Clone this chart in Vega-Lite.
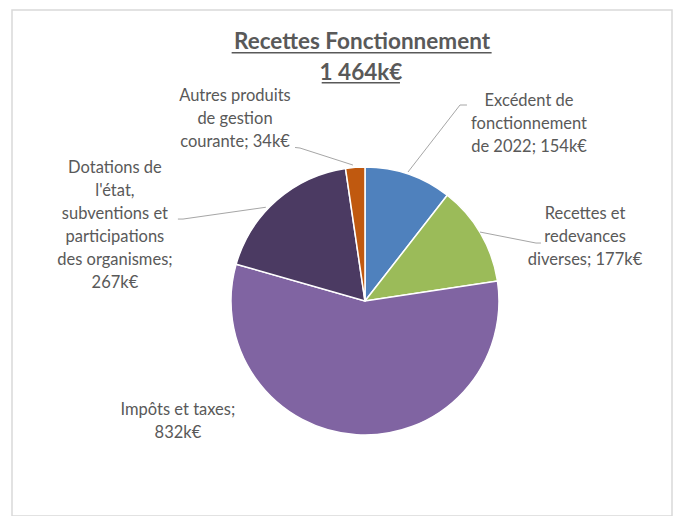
{
  "$schema": "https://vega.github.io/schema/vega-lite/v6.json",
  "autosize": {"type": "fit", "contains": "padding"},
  "width": 675,
  "height": 516,
  "padding": {"left": 12, "top": 10, "right": 3, "bottom": 0},
  "background": "white",
  "config": {"view": {"stroke": "#D9D9D9", "strokeWidth": 1.5}},
  "datasets": {
    "slices": [
      {"cat": "Excédent de fonctionnement de 2022", "value": 154, "ord": 1, "label": "Excédent de\nfonctionnement\nde 2022; 154k€", "lx": 122.4, "ly": 149.3},
      {"cat": "Recettes et redevances diverses", "value": 177, "ord": 2, "label": "Recettes et\nredevances\ndiverses; 177k€", "lx": 164.2, "ly": 64.9},
      {"cat": "Impôts et taxes", "value": 832, "ord": 3, "label": "Impôts et taxes;\n832k€", "lx": -139.6, "ly": -81.3},
      {"cat": "Dotations de l'état, subventions et participations des organismes", "value": 267, "ord": 4, "label": "Dotations de\nl'état,\nsubventions et\nparticipations\ndes organismes;\n267k€", "lx": -186.6, "ly": 99.3},
      {"cat": "Autres produits de gestion courante", "value": 34, "ord": 5, "label": "Autres produits\nde gestion\ncourante; 34k€", "lx": -97, "ly": 153}
    ],
    "leaders": [
      {"id": "a", "seq": 1, "u": 32.1, "v": 96.3},
      {"id": "a", "seq": 2, "u": 70.9, "v": 146.3},
      {"id": "a", "seq": 3, "u": 76.1, "v": 146.3},
      {"id": "b", "seq": 1, "u": 85.8, "v": 51.5},
      {"id": "b", "seq": 2, "u": 127.6, "v": 43.3},
      {"id": "b", "seq": 3, "u": 131.3, "v": 43.3},
      {"id": "c", "seq": 1, "u": -52.2, "v": 114.6},
      {"id": "c", "seq": 2, "u": -48.5, "v": 114.2},
      {"id": "c", "seq": 3, "u": -9, "v": 101.5},
      {"id": "d", "seq": 1, "u": -139.6, "v": 61.2},
      {"id": "d", "seq": 2, "u": -135.8, "v": 61.2},
      {"id": "d", "seq": 3, "u": -74, "v": 70}
    ],
    "titles": [
      {"t": "Recettes Fonctionnement", "tx": -2.2, "ty": 188.1, "ux1": -99.5, "ux2": 94.5, "uy": 185.3},
      {"t": "1 464k€", "tx": -3, "ty": 164.9, "ux1": -32.3, "ux2": 26.1, "uy": 162.9}
    ]
  },
  "layer": [
    {
      "data": {"name": "slices"},
      "mark": {"type": "arc", "outerRadius": 134, "stroke": "white", "strokeWidth": 1.5},
      "encoding": {
        "x": {"datum": 0, "type": "quantitative", "scale": {"domain": [-263.4, 229.1], "nice": false, "zero": false}, "axis": null},
        "y": {"datum": 0, "type": "quantitative", "scale": {"domain": [-160.4, 217.2], "nice": false, "zero": false}, "axis": null},
        "theta": {"field": "value", "type": "quantitative", "stack": true},
        "order": {"field": "ord", "type": "quantitative"},
        "color": {
          "field": "cat", "type": "nominal", "legend": null,
          "scale": {
            "domain": ["Excédent de fonctionnement de 2022", "Recettes et redevances diverses", "Impôts et taxes", "Dotations de l'état, subventions et participations des organismes", "Autres produits de gestion courante"],
            "range": ["#4F81BD", "#9BBB59", "#8064A2", "#4B3A62", "#C0590F"]
          }
        }
      }
    },
    {
      "data": {"name": "leaders"},
      "mark": {"type": "line", "color": "#A6A6A6", "strokeWidth": 1},
      "encoding": {
        "x": {"field": "u", "type": "quantitative"},
        "y": {"field": "v", "type": "quantitative"},
        "detail": {"field": "id"},
        "order": {"field": "seq", "type": "quantitative"}
      }
    },
    {
      "data": {"name": "slices"},
      "mark": {"type": "text", "font": "Lato", "fontSize": 16.5, "color": "#595959", "align": "center", "baseline": "middle", "lineBreak": "\n", "lineHeight": 23},
      "encoding": {
        "x": {"field": "lx", "type": "quantitative"},
        "y": {"field": "ly", "type": "quantitative"},
        "text": {"field": "label"}
      }
    },
    {
      "data": {"name": "titles"},
      "mark": {"type": "text", "font": "Lato", "fontSize": 22.5, "fontWeight": "bold", "color": "#595959", "align": "center", "baseline": "alphabetic"},
      "encoding": {
        "x": {"field": "tx", "type": "quantitative"},
        "y": {"field": "ty", "type": "quantitative"},
        "text": {"field": "t"}
      }
    },
    {
      "data": {"name": "titles"},
      "mark": {"type": "rule", "color": "#595959", "strokeWidth": 1.4},
      "encoding": {
        "x": {"field": "ux1", "type": "quantitative"},
        "x2": {"field": "ux2"},
        "y": {"field": "uy", "type": "quantitative"}
      }
    }
  ]
}
